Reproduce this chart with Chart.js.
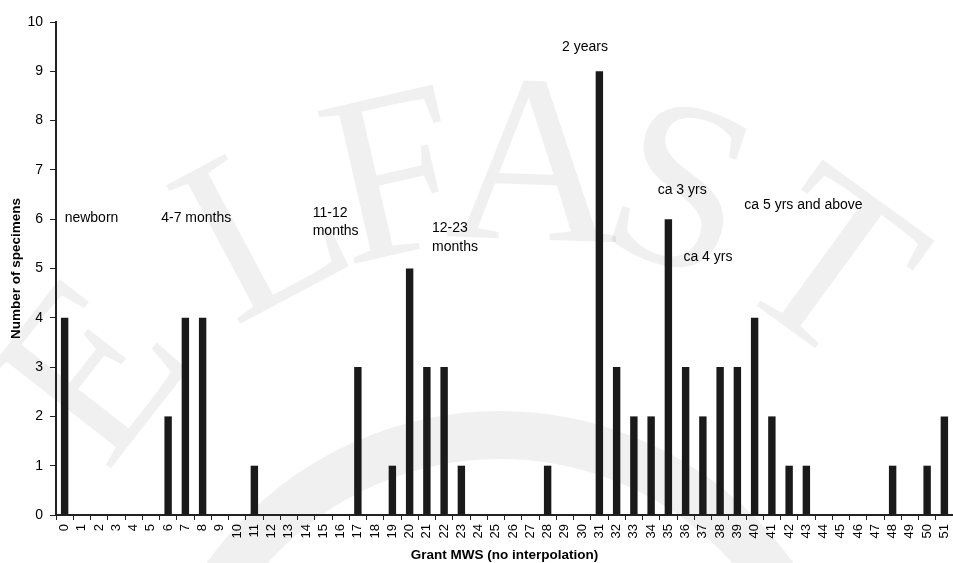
<!DOCTYPE html>
<html>
<head>
<meta charset="utf-8">
<script src="https://cdn.jsdelivr.net/npm/chart.js@4/dist/chart.umd.min.js"></script>
<style>
  html, body { margin: 0; padding: 0; background: #fff; overflow: hidden; }
  canvas { display: block; }
</style>
</head>
<body>
<canvas id="chart" width="953" height="563"></canvas>
<script>
// Grant mandibular wear stage (MWS) categories
const categories = ['0','1','2','3','4','5','6','7','8','9','10','11','12','13','14','15','16','17','18','19','20','21','22','23','24','25','26','27','28','29','30','31','32','33','34','35','36','37','38','39','40','41','42','43','44','45','46','47','48','49','50','51'];

// Number of specimens at each wear stage
const specimens = [4,0,0,0,0,0,2,4,4,0,0,1,0,0,0,0,0,3,0,1,5,3,3,1,0,0,0,0,1,0,0,9,3,2,2,6,3,2,3,3,4,2,1,1,0,0,0,0,1,0,1,2];

// Y axis range
const yMin = 0;
const yMax = 10;
const yStep = 1;

// Age-group notes, placed in axis units (x = wear stage, y = specimen count)
const ageNotes = [
  { lines: ['newborn'], x: 0.0, y: 6.02 },
  { lines: ['4-7 months'], x: 5.6, y: 6.02 },
  { lines: ['11-12', 'months'], x: 14.38, y: 6.13 },
  { lines: ['12-23', 'months'], x: 21.3, y: 5.81 },
  { lines: ['2 years'], x: 28.84, y: 9.5 },
  { lines: ['ca 3 yrs'], x: 34.38, y: 6.59 },
  { lines: ['ca 4 yrs'], x: 35.87, y: 5.24 },
  { lines: ['ca 5 yrs and above'], x: 39.4, y: 6.29 }
];

const FONT = "'Liberation Sans', Arial, Helvetica, sans-serif";

// White page with the faint seal lettering behind the plot
const backdrop = {
  id: 'backdrop',
  beforeDraw(chart) {
    const ctx = chart.ctx;
    ctx.save();
    ctx.fillStyle = '#ffffff';
    ctx.fillRect(0, 0, chart.width, chart.height);

    const shade = 'rgba(0,0,0,0.06)';
    const letters = ['E', 'L', 'F', 'A', 'S', 'T'];
    const angles = [-52, -28, -13, 2, 18, 36];
    const cx = 515, cy = 700, r = 540, capH = 158;
    ctx.fillStyle = shade;
    ctx.font = "240px 'Liberation Serif', 'DejaVu Serif', serif";
    ctx.textAlign = 'center';
    ctx.textBaseline = 'alphabetic';
    letters.forEach((ch, i) => {
      ctx.save();
      ctx.translate(cx, cy);
      ctx.rotate(angles[i] * Math.PI / 180);
      ctx.fillText(ch, 0, -r + capH / 2);
      ctx.restore();
    });

    ctx.strokeStyle = shade;
    ctx.lineWidth = 48;
    ctx.beginPath();
    ctx.arc(500, 770, 335, Math.PI * 1.12, Math.PI * 1.88);
    ctx.stroke();
    ctx.restore();
  }
};

// Age-group text notes
const notes = {
  id: 'notes',
  afterDraw(chart) {
    const ctx = chart.ctx;
    const xs = chart.scales.x, ys = chart.scales.y;
    ctx.save();
    ctx.fillStyle = '#000';
    ctx.font = '14px ' + FONT;
    ctx.textAlign = 'left';
    ctx.textBaseline = 'middle';
    ageNotes.forEach(n => {
      const px = xs.getPixelForValue(n.x);
      const py = ys.getPixelForValue(n.y);
      n.lines.forEach((t, i) => ctx.fillText(t, px, py + i * 18.3));
    });
    ctx.restore();
  }
};

new Chart(document.getElementById('chart'), {
  type: 'bar',
  data: {
    labels: categories,
    datasets: [{
      data: specimens,
      backgroundColor: '#1a1a1a',
      borderWidth: 0,
      barPercentage: 0.43,
      categoryPercentage: 1
    }]
  },
  options: {
    responsive: false,
    animation: false,
    devicePixelRatio: 1,
    layout: { padding: { top: 22, left: 0, right: 0, bottom: 0 } },
    plugins: {
      legend: { display: false },
      tooltip: { enabled: false },
      title: { display: false }
    },
    scales: {
      x: {
        offset: true,
        grid: {
          display: true,
          offset: true,
          drawOnChartArea: false,
          drawTicks: true,
          tickLength: 5,
          color: '#222',
          lineWidth: 1
        },
        border: { display: true, color: '#222', width: 2 },
        ticks: {
          autoSkip: false,
          minRotation: 90,
          maxRotation: 90,
          padding: 4,
          color: '#000',
          font: { family: FONT, size: 13 }
        },
        title: {
          display: true,
          text: 'Grant MWS (no interpolation)',
          color: '#000',
          font: { family: FONT, size: 13.5, weight: 'bold' },
          padding: { top: 0, bottom: 0 }
        },
        afterFit(s) { s.height = 48; s.paddingLeft = 0; s.paddingRight = 0; }
      },
      y: {
        min: yMin,
        max: yMax,
        grid: {
          display: true,
          drawOnChartArea: false,
          drawTicks: true,
          tickLength: 6,
          color: '#222',
          lineWidth: 1
        },
        border: { display: true, color: '#222', width: 2 },
        ticks: {
          stepSize: yStep,
          padding: 7,
          color: '#000',
          font: { family: FONT, size: 14 }
        },
        title: {
          display: true,
          text: 'Number of specimens',
          color: '#000',
          font: { family: FONT, size: 13.5, weight: 'bold' },
          padding: { top: 8, bottom: 0 }
        },
        afterFit(s) { s.width = 56; s.paddingTop = 0; s.paddingBottom = 0; }
      }
    }
  },
  plugins: [backdrop, notes]
});
</script>
</body>
</html>
